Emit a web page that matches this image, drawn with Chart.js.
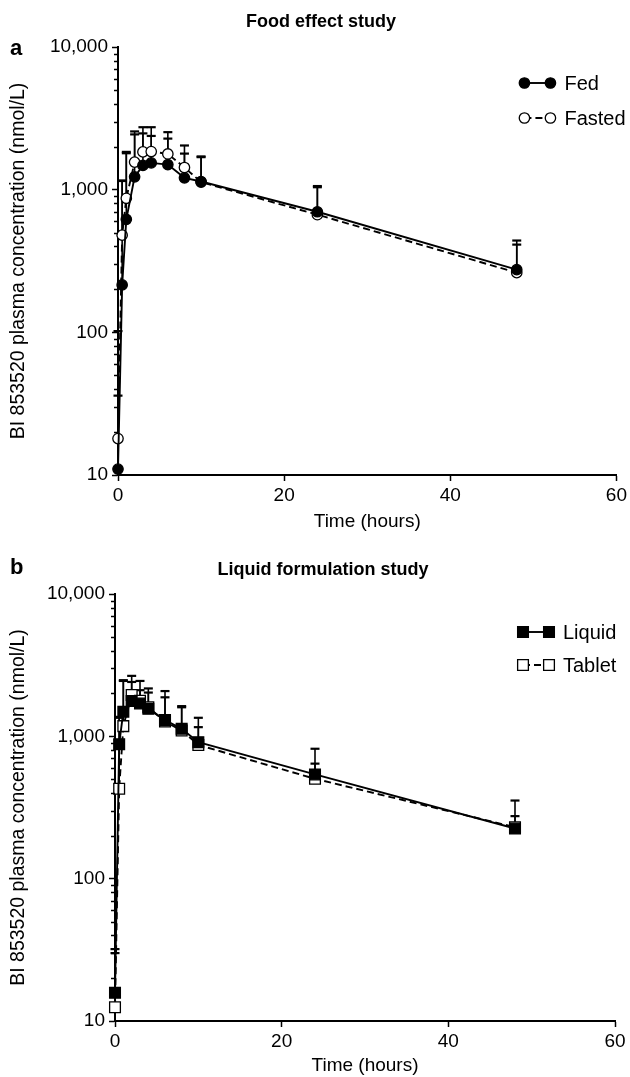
<!DOCTYPE html>
<html>
<head>
<meta charset="utf-8">
<script src="https://cdn.jsdelivr.net/npm/chart.js@4.4.1/dist/chart.umd.min.js"></script>
<style>
  html, body { margin: 0; padding: 0; background: #fff; }
  #wrap { position: relative; width: 630px; height: 1077px; }
  canvas { position: absolute; left: 0; }
  #panelA { top: 0; }
  #panelB { top: 538px; }
</style>
</head>
<body>
<div id="wrap">
  <canvas id="panelA" width="630" height="538"></canvas>
  <canvas id="panelB" width="630" height="539"></canvas>
</div>
<script>
// axis ticks
const xTicks = [0, 20, 40, 60];
const yMajor = [10, 100, 1000, 10000];

// panel a - food effect study
const foodTimes = [0, 0.5, 1, 2, 3, 4, 6, 8, 10, 24, 48];
const fedMean = [11, 215, 620, 1230, 1480, 1540, 1500, 1210, 1140, 700, 275];
const fedUpper = [36, 1160, 1840, 2440, 2480, 2380, 2280, 1790, 1710, 1060, 440];
const fastedMean = [18, 480, 870, 1560, 1840, 1850, 1780, 1430, 1130, 668, 262];
const fastedUpper = [102, 1150, 1800, 2560, 2740, 2740, 2530, 2040, 1690, 1040, 412];

// panel b - liquid formulation study
const formTimes = [0, 0.5, 1, 2, 3, 4, 6, 8, 10, 24, 48];
const liquidMean = [15.8, 880, 1490, 1770, 1700, 1560, 1300, 1130, 910, 540, 225];
const liquidUpper = [32, 1370, 2480, 2410, 2450, 2170, 2080, 1630, 1350, 818, 354];
const tabletMean = [12.5, 428, 1180, 1950, 1780, 1600, 1270, 1100, 870, 503, 230];
const tabletUpper = [30, 1350, 2450, 2660, 2110, 2030, 1880, 1600, 1160, 643, 275];

Chart.defaults.font.family = '"Liberation Sans", Arial, Helvetica, sans-serif';
Chart.defaults.color = '#000';

// minor ticks for the log axis (2..9 per decade)
const yTicks = [];
for (let d = 10; d < 10000; d *= 10) {
    for (let k = 1; k < 10; k++) yTicks.push(d * k);
}
yTicks.push(10000);

// error bars (upper only) drawn under the markers
const errorBars = {
    id: 'errorBars',
    beforeDatasetsDraw(chart) {
        const ctx = chart.ctx;
        const yScale = chart.scales.y;
        ctx.save();
        ctx.strokeStyle = '#000';
        ctx.lineWidth = 1.6;
        chart.data.datasets.forEach((ds, i) => {
            const meta = chart.getDatasetMeta(i);
            meta.data.forEach((pt, j) => {
                const top = yScale.getPixelForValue(ds.upper[j]);
                ctx.beginPath();
                ctx.moveTo(pt.x, pt.y);
                ctx.lineTo(pt.x, top);
                ctx.stroke();
                ctx.save();
                ctx.lineWidth = 2.2;
                ctx.beginPath();
                ctx.moveTo(pt.x - 4.5, top);
                ctx.lineTo(pt.x + 4.5, top);
                ctx.stroke();
                ctx.restore();
            });
        });
        ctx.restore();
    }
};

// title, panel letter, minor ticks and the legend
const decor = {
    id: 'decor',
    afterDraw(chart, args, o) {
        const ctx = chart.ctx;
        const area = chart.chartArea;
        const yScale = chart.scales.y;
        ctx.save();

        // minor ticks
        ctx.strokeStyle = '#000';
        ctx.lineWidth = 1.5;
        yTicks.forEach(v => {
            if (yMajor.includes(v)) return;
            const y = Math.round(yScale.getPixelForValue(v)) + 0.5;
            ctx.beginPath();
            ctx.moveTo(area.left - 4, y);
            ctx.lineTo(area.left, y);
            ctx.stroke();
        });

        ctx.fillStyle = '#000';
        ctx.textBaseline = 'middle';
        ctx.font = 'bold 18px "Liberation Sans", Arial, sans-serif';
        ctx.textAlign = 'center';
        ctx.fillText(o.title, o.titleX, o.titleY);
        ctx.font = 'bold 22px "Liberation Sans", Arial, sans-serif';
        ctx.textAlign = 'left';
        ctx.fillText(o.letter, 10, o.letterY);

        // legend: marker - line - marker, then the label
        ctx.font = '20px "Liberation Sans", Arial, sans-serif';
        chart.data.datasets.forEach((ds, i) => {
            const y = o.legendY[i];
            const x1 = area.right - 92;
            const x2 = area.right - 66;
            ctx.save();
            ctx.strokeStyle = '#000';
            ctx.lineWidth = ds.borderWidth;
            ctx.setLineDash(ds.borderDash);
            ctx.beginPath();
            ctx.moveTo(x1, y);
            ctx.lineTo(x2, y);
            ctx.stroke();
            ctx.restore();
            [x1, x2].forEach(x => {
                ctx.save();
                ctx.fillStyle = ds.pointBackgroundColor;
                ctx.strokeStyle = '#000';
                ctx.lineWidth = ds.pointBorderWidth;
                Chart.helpers.drawPoint(ctx, {
                    pointStyle: ds.pointStyle,
                    radius: ds.pointRadius,
                    borderWidth: ds.pointBorderWidth,
                    rotation: 0
                }, x, y);
                ctx.restore();
            });
            ctx.fillStyle = '#000';
            ctx.textAlign = 'left';
            ctx.fillText(ds.label, area.right - 52, y + 1);
        });
        ctx.restore();
    }
};

function makeSeries(label, times, mean, upper, filled, dashed, shape, radius) {
    return {
        label: label,
        data: times.map((t, i) => ({ x: t, y: mean[i] })),
        upper: upper,
        clip: false,
        borderColor: '#000',
        borderWidth: 1.9,
        borderDash: dashed ? [7, 4] : [],
        pointStyle: shape,
        pointRadius: radius,
        pointBackgroundColor: filled ? '#000' : '#fff',
        pointBorderColor: '#000',
        pointBorderWidth: 1.3,
        tension: 0
    };
}

function makePanel(id, datasets, p) {
    const ctx = document.getElementById(id).getContext('2d');
    return new Chart(ctx, {
        type: 'line',
        data: { datasets: datasets },
        plugins: [errorBars, decor],
        options: {
            responsive: false,
            animation: false,
            layout: { padding: { top: p.top, right: p.right, left: 0, bottom: 0 } },
            plugins: {
                legend: { display: false },
                tooltip: { enabled: false },
                decor: p.decor
            },
            scales: {
                x: {
                    type: 'linear',
                    min: 0,
                    max: 60,
                    afterBuildTicks: s => { s.ticks = xTicks.map(v => ({ value: v })); },
                    afterFit: s => { s.height = p.xHeight; },
                    border: { color: '#000', width: 2 },
                    grid: { drawOnChartArea: false, color: '#000', tickLength: 6, tickWidth: 1.5 },
                    ticks: { color: '#000', font: { size: 19 }, padding: 3, maxRotation: 0 },
                    title: {
                        display: true,
                        text: 'Time (hours)',
                        color: '#000',
                        font: { size: 19 },
                        padding: { top: 0, bottom: p.xTitlePad }
                    }
                },
                y: {
                    type: 'logarithmic',
                    min: 10,
                    max: 10000,
                    afterBuildTicks: s => { s.ticks = yTicks.map(v => ({ value: v, major: yMajor.includes(v) })); },
                    afterFit: s => { s.width = p.yWidth; },
                    border: { color: '#000', width: 2 },
                    grid: {
                        drawOnChartArea: false,
                        tickLength: 6,
                        tickWidth: 1.5,
                        color: c => (c.tick && yMajor.includes(c.tick.value)) ? '#000' : 'rgba(0,0,0,0)'
                    },
                    ticks: {
                        color: '#000',
                        font: { size: 19 },
                        padding: 4,
                        autoSkip: false,
                        callback: v => yMajor.includes(v) ? v.toLocaleString('en-US') : ''
                    },
                    title: {
                        display: true,
                        text: 'BI 853520 plasma concentration (nmol/L)',
                        color: '#000',
                        font: { size: 19.5 },
                        padding: { top: 7, bottom: 0 }
                    }
                }
            }
        }
    });
}

makePanel('panelA', [
    makeSeries('Fed', foodTimes, fedMean, fedUpper, true, false, 'circle', 5.2),
    makeSeries('Fasted', foodTimes, fastedMean, fastedUpper, false, true, 'circle', 5.2)
], {
    top: 47, right: 13, yWidth: 118, xHeight: 63, xTitlePad: 5,
    decor: { title: 'Food effect study', titleX: 321, titleY: 22, letter: 'a', letterY: 49, legendY: [83, 118] }
});

makePanel('panelB', [
    makeSeries('Liquid', formTimes, liquidMean, liquidUpper, true, false, 'rect', 7.6),
    makeSeries('Tablet', formTimes, tabletMean, tabletUpper, false, true, 'rect', 7.6)
], {
    top: 56, right: 15, yWidth: 115, xHeight: 56, xTitlePad: 0,
    decor: { title: 'Liquid formulation study', titleX: 323, titleY: 32, letter: 'b', letterY: 30, legendY: [94, 127] }
});
</script>
</body>
</html>
